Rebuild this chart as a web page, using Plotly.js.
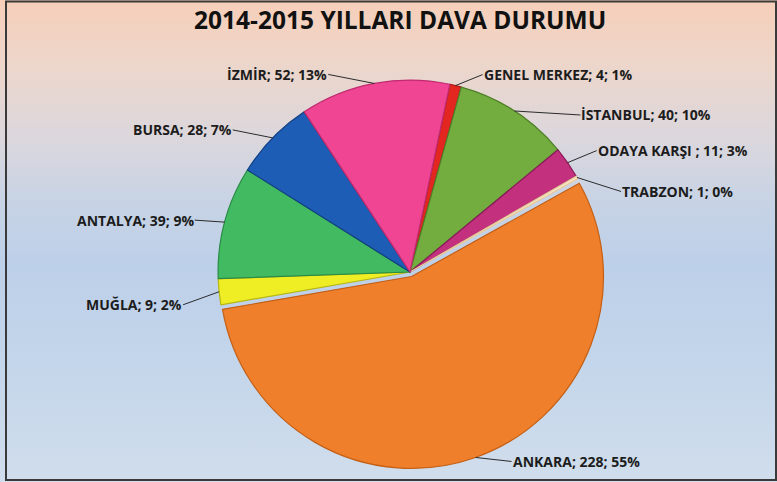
<!DOCTYPE html>
<html>
<head>
<meta charset="utf-8">
<script src="https://cdn.plot.ly/plotly-3.0.1.min.js"></script>
<style>
  html, body { margin: 0; padding: 0; overflow: hidden; }
  #chart {
    width: 777px; height: 482px;
    background: linear-gradient(to bottom, #f7cfb9 0%, #ecd6cb 14%, #dcd7dc 28%, #c7d3e5 42%, #bdd0e9 55%, #c1d4ea 70%, #d0ddec 100%);
  }
</style>
</head>
<body>
<div id="chart"></div>
<script>
// ---- data ----
const categories = ['GENEL MERKEZ', 'İSTANBUL', 'ODAYA KARŞI ', 'TRABZON', 'ANKARA', 'MUĞLA', 'ANTALYA', 'BURSA', 'İZMİR'];
const caseCounts = [4, 40, 11, 1, 228, 9, 39, 28, 52];
const chartTitle = '2014-2015 YILLARI DAVA DURUMU';

// ---- style ----
const sliceColors = ['#e3261f', '#73ad40', '#c2307e', '#f7e4c4', '#f07f2c', '#efee24', '#41ba61', '#1d5db5', '#ef4593'];
const edgeColors  = ['#a01812', '#4f7f28', '#8a1c58', '#e8c99a', '#c45f14', '#b8b610', '#2a8a45', '#123f82', '#c02a6e'];
const pulled = {'ANKARA': 0.025};
const W = 777, H = 482;
const startAngle = 12;           // degrees, clockwise from 12 o'clock
const domX = [0.2745, 0.7808];
const domY = [0.0276, 0.8438];
// label text offsets (px) from leader-line head, and anchor side
const labelDx = [27, 66, 29, 44, 36, -36, -30, -40, -46];
const labelDy = [-11, 4, -12, 14, 4, 13, -2, -8, -9];

const pullArr = categories.map(c => pulled[c] || 0);
const maxPull = Math.max(...pullArr);
const boxW = (domX[1] - domX[0]) * W, boxH = (domY[1] - domY[0]) * H;
const R = Math.min(boxW, boxH) / (2 + 2 * maxPull);
const cx = W * (domX[0] + domX[1]) / 2;
const cy = H * (1 - (domY[0] + domY[1]) / 2);
const total = caseCounts.reduce((a, b) => a + b, 0);

const annotations = [];
let acc = startAngle;
categories.forEach((c, i) => {
  const span = caseCounts[i] / total * 360;
  const mid = (acc + span / 2) * Math.PI / 180;
  acc += span;
  const p = pullArr[i] * R;
  const hx = cx + (R + p) * Math.sin(mid);
  const hy = cy - (R + p) * Math.cos(mid);
  const pct = Math.round(caseCounts[i] / total * 100);
  annotations.push({
    xref: 'paper', yref: 'paper',
    x: hx / W, y: 1 - hy / H,
    ax: labelDx[i], ay: labelDy[i],
    xanchor: labelDx[i] >= 0 ? 'left' : 'right', yanchor: 'middle',
    text: c + '; ' + caseCounts[i] + '; ' + pct + '%',
    showarrow: true, arrowhead: 0, arrowwidth: 1, arrowcolor: '#2b2b2b',
    standoff: 0, borderpad: 0,
    font: {family: 'Open Sans, Liberation Sans, sans-serif', size: 14, color: '#1c1c1c', weight: 700}
  });
});

const trace = {
  type: 'pie',
  labels: categories,
  values: caseCounts,
  sort: false,
  direction: 'clockwise',
  rotation: startAngle,
  pull: pullArr,
  textinfo: 'none',
  hoverinfo: 'label+value+percent',
  marker: {colors: sliceColors, line: {color: edgeColors, width: 1.2}},
  domain: {x: domX, y: domY},
  showlegend: false
};

const layout = {
  width: W, height: H,
  margin: {l: 0, r: 0, t: 0, b: 0},
  paper_bgcolor: 'rgba(0,0,0,0)',
  plot_bgcolor: 'rgba(0,0,0,0)',
  showlegend: false,
  title: {
    text: chartTitle,
    x: 0.515, xanchor: 'center',
    y: 0.957, yanchor: 'middle', yref: 'container',
    font: {family: 'Open Sans, sans-serif', size: 24.5, color: '#111111', weight: 700}
  },
  annotations: annotations,
  shapes: [{
    type: 'rect', xref: 'paper', yref: 'paper',
    x0: 6 / W, x1: 776 / W, y0: 1 - 480 / H, y1: 1 - 1.5 / H,
    line: {color: '#3a3a3a', width: 2}, fillcolor: 'rgba(0,0,0,0)', layer: 'above'
  }]
};

Plotly.newPlot('chart', [trace], layout, {displayModeBar: false, staticPlot: true});
</script>
</body>
</html>
